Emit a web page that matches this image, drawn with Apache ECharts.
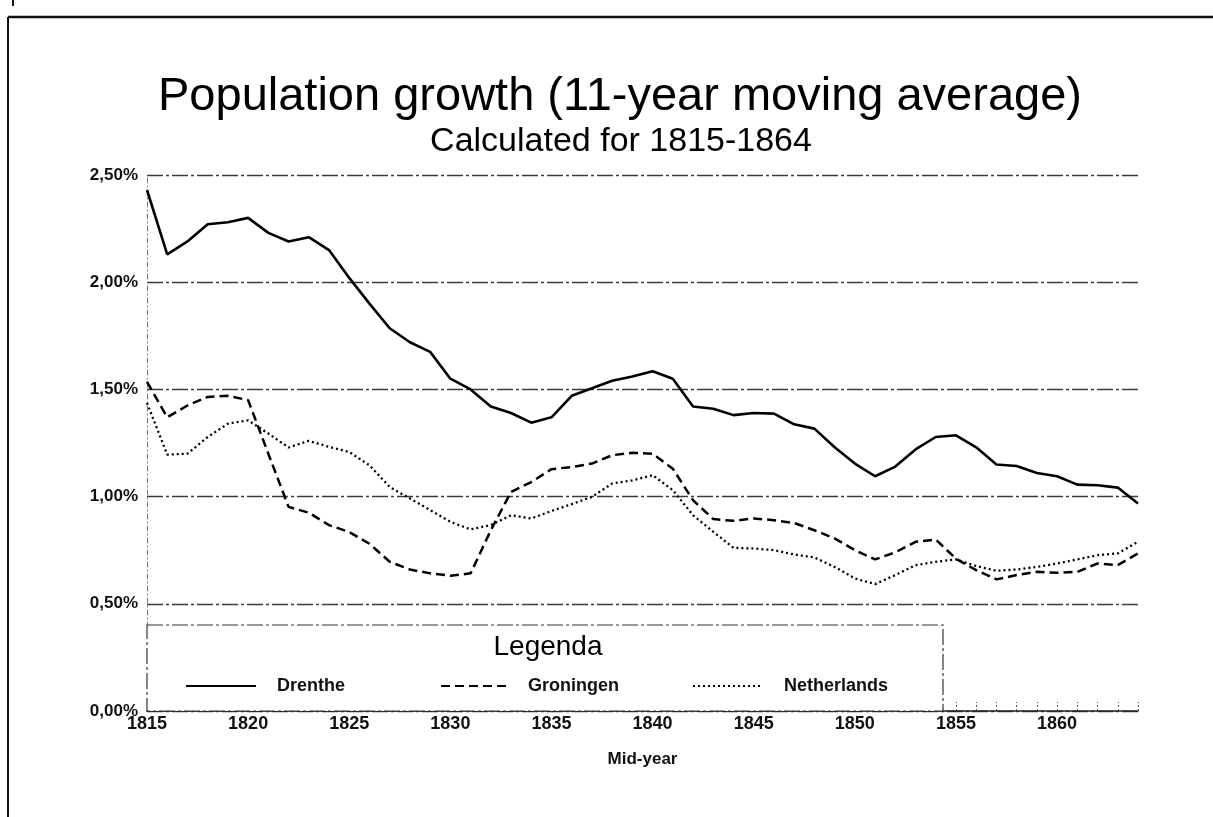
<!DOCTYPE html>
<html>
<head>
<meta charset="utf-8">
<script src="https://cdn.jsdelivr.net/npm/echarts@6/dist/echarts.min.js"></script>
<style>
html,body{margin:0;padding:0;background:#fff;}
#chart{width:1213px;height:817px;}
</style>
</head>
<body>
<div id="chart"></div>
<script>
const years = ['1815','1816','1817','1818','1819','1820','1821','1822','1823','1824',
  '1825','1826','1827','1828','1829','1830','1831','1832','1833','1834',
  '1835','1836','1837','1838','1839','1840','1841','1842','1843','1844',
  '1845','1846','1847','1848','1849','1850','1851','1852','1853','1854',
  '1855','1856','1857','1858','1859','1860','1861','1862','1863','1864'];

const drenthe = [2.43,2.13,2.19,2.27,2.28,2.30,2.23,2.19,2.21,2.15,
  2.02,1.90,1.785,1.72,1.675,1.55,1.50,1.42,1.39,1.345,
  1.37,1.47,1.505,1.54,1.56,1.585,1.55,1.42,1.41,1.38,
  1.39,1.387,1.337,1.317,1.23,1.154,1.095,1.14,1.22,1.278,
  1.286,1.23,1.15,1.143,1.11,1.095,1.056,1.053,1.042,0.968];

const groningen = [1.535,1.37,1.425,1.465,1.47,1.45,1.20,0.952,0.925,0.867,
  0.835,0.78,0.696,0.66,0.642,0.631,0.642,0.843,1.022,1.068,
  1.128,1.138,1.154,1.193,1.204,1.20,1.13,0.983,0.895,0.887,
  0.898,0.89,0.877,0.843,0.805,0.75,0.707,0.74,0.789,0.80,
  0.71,0.657,0.614,0.634,0.649,0.645,0.649,0.688,0.68,0.735];

const netherlands = [1.437,1.196,1.20,1.278,1.34,1.356,1.294,1.229,1.26,1.232,
  1.208,1.146,1.045,0.991,0.937,0.882,0.847,0.867,0.913,0.898,
  0.933,0.965,0.999,1.061,1.076,1.10,1.03,0.913,0.836,0.761,
  0.758,0.75,0.73,0.716,0.672,0.618,0.592,0.634,0.68,0.696,
  0.707,0.676,0.654,0.66,0.672,0.688,0.707,0.727,0.735,0.789];

const seriesNames = ['Drenthe','Groningen','Netherlands'];
const titleText = 'Population growth (11-year moving average)';
const subtitleText = 'Calculated for 1815-1864';
const xAxisName = 'Mid-year';
const legendTitle = 'Legenda';

const FONT = '"Liberation Sans", Arial, Helvetica, sans-serif';
const chart = echarts.init(document.getElementById('chart'), null, {renderer:'canvas'});

const gridColor = '#3a3a3a';
const legendText = { fontSize: 18, fontWeight: 'bold', color: '#111', fontFamily: FONT };

const option = {
  backgroundColor: '#fff',
  animation: false,
  textStyle: { fontFamily: FONT, color: '#000' },
  grid: { left: 147, right: 75, top: 175, bottom: 106, containLabel: false },
  xAxis: {
    type: 'category',
    data: years,
    boundaryGap: false,
    name: xAxisName,
    nameLocation: 'middle',
    nameGap: 40,
    nameTextStyle: { fontSize: 17, fontWeight: 'bold', color: '#111', fontFamily: FONT },
    axisLine: { show: true, lineStyle: { color: '#222', width: 1.5 } },
    axisTick: { show: true, inside: true, length: 9, interval: 0, lineStyle: { color: '#555', width: 1, type: [2,2] } },
    axisLabel: {
      interval: function (idx) { return idx % 5 === 0; },
      fontSize: 18, fontWeight: 'bold', color: '#111', margin: 4, fontFamily: FONT
    },
    splitLine: { show: false }
  },
  yAxis: {
    type: 'value',
    min: 0, max: 2.5, interval: 0.5,
    axisLine: { show: true, lineStyle: { color: '#777', width: 1, type: [5,3,1,3] } },
    axisTick: { show: false },
    axisLabel: {
      formatter: function (v) { return v.toFixed(2).replace('.', ',') + '%'; },
      fontSize: 17, fontWeight: 'bold', color: '#111', margin: 9, fontFamily: FONT
    },
    splitLine: { show: true, lineStyle: { color: gridColor, width: 1.3, type: [16,3,3,3] } }
  },
  legend: [
    { data: [seriesNames[0]], left: 180, top: 672, itemWidth: 70, itemHeight: 14, z: 120,
      itemStyle: { opacity: 0, borderWidth: 0 },
      textStyle: Object.assign({ padding: [0,0,0,16] }, legendText) },
    { data: [seriesNames[1]], left: 435, top: 672, itemWidth: 70, itemHeight: 14, z: 120,
      itemStyle: { opacity: 0, borderWidth: 0 },
      textStyle: Object.assign({ padding: [0,0,0,12] }, legendText) },
    { data: [seriesNames[2]], left: 687, top: 672, itemWidth: 70, itemHeight: 14, z: 120,
      itemStyle: { opacity: 0, borderWidth: 0 },
      textStyle: Object.assign({ padding: [0,0,0,16] }, legendText) }
  ],
  series: [
    { name: seriesNames[0], type: 'line', data: drenthe, symbol: 'none', z: 5,
      lineStyle: { color: '#000', width: 2.6, type: 'solid' }, itemStyle: { color: '#000' } },
    { name: seriesNames[1], type: 'line', data: groningen, symbol: 'none', z: 5,
      lineStyle: { color: '#000', width: 2.5, type: [9,5] }, itemStyle: { color: '#000' } },
    { name: seriesNames[2], type: 'line', data: netherlands, symbol: 'none', z: 5,
      lineStyle: { color: '#000', width: 2.3, type: [2,3] }, itemStyle: { color: '#000' } }
  ],
  graphic: [
    { type: 'line', z: 100, shape: { x1: 8, y1: 17, x2: 1213, y2: 17 }, style: { stroke: '#111', lineWidth: 2.5 } },
    { type: 'line', z: 100, shape: { x1: 8, y1: 17, x2: 8, y2: 817 }, style: { stroke: '#111', lineWidth: 2 } },
    { type: 'line', z: 100, shape: { x1: 13, y1: 0, x2: 13, y2: 6 }, style: { stroke: '#111', lineWidth: 2 } },
    { type: 'text', z: 100, style: { text: titleText, x: 620, y: 97, textAlign: 'center', textVerticalAlign: 'middle',
        font: 'normal 47px ' + FONT, fill: '#000' } },
    { type: 'text', z: 100, style: { text: subtitleText, x: 621, y: 142, textAlign: 'center', textVerticalAlign: 'middle',
        font: 'normal 34px ' + FONT, fill: '#000' } },
    { type: 'rect', z: 100, shape: { x: 147, y: 625, width: 796, height: 86 },
      style: { fill: '#fff', stroke: '#333', lineWidth: 1.2, lineDash: [16,3,3,3] } },
    { type: 'text', z: 110, style: { text: legendTitle, x: 548, y: 647, textAlign: 'center', textVerticalAlign: 'middle',
        font: 'normal 28px ' + FONT, fill: '#000' } }
  ]
};
chart.setOption(option);
</script>
</body>
</html>
